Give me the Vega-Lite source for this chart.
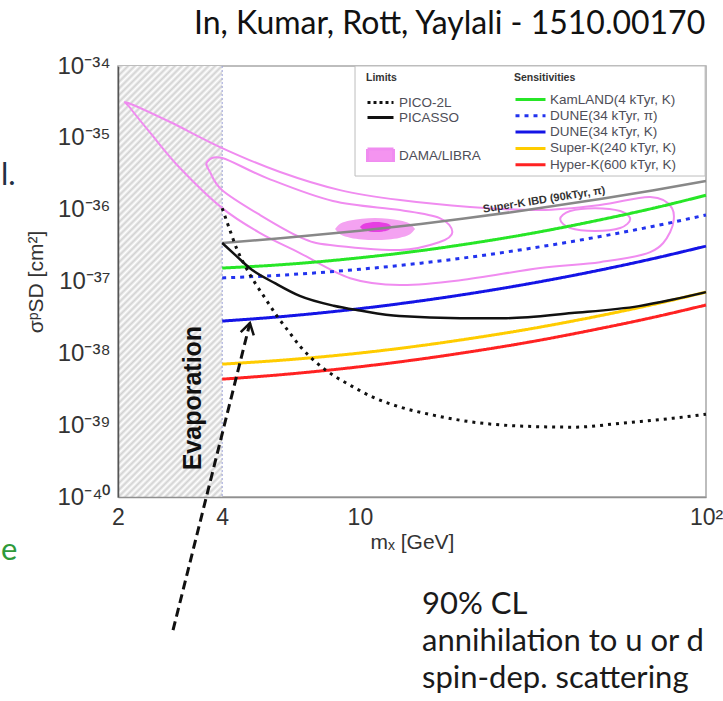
{
  "$schema": "https://vega.github.io/schema/vega-lite/v6.json",
  "width": 588,
  "height": 431,
  "autosize": {"type": "none"},
  "padding": {"left": 118, "top": 66, "right": 17, "bottom": 204},
  "background": "white",
  "config": {
    "view": {"stroke": "#a8a8a8", "strokeWidth": 1.5},
    "font": "Liberation Sans",
    "axis": {"grid": false}
  },
  "datasets": {
    "sensitivity": [
      {"series": "KamLAND(4 kTyr, K)", "m": 4, "sigma": 1.54e-37},
      {"series": "KamLAND(4 kTyr, K)", "m": 6, "sigma": 1.72e-37},
      {"series": "KamLAND(4 kTyr, K)", "m": 10, "sigma": 2.14e-37},
      {"series": "KamLAND(4 kTyr, K)", "m": 15, "sigma": 2.69e-37},
      {"series": "KamLAND(4 kTyr, K)", "m": 20, "sigma": 3.28e-37},
      {"series": "KamLAND(4 kTyr, K)", "m": 30, "sigma": 4.51e-37},
      {"series": "KamLAND(4 kTyr, K)", "m": 50, "sigma": 7.30e-37},
      {"series": "KamLAND(4 kTyr, K)", "m": 70, "sigma": 1.04e-36},
      {"series": "KamLAND(4 kTyr, K)", "m": 100, "sigma": 1.59e-36},
      {"series": "DUNE(34 kTyr, π)", "m": 4, "sigma": 1.12e-37},
      {"series": "DUNE(34 kTyr, π)", "m": 6, "sigma": 1.23e-37},
      {"series": "DUNE(34 kTyr, π)", "m": 10, "sigma": 1.48e-37},
      {"series": "DUNE(34 kTyr, π)", "m": 15, "sigma": 1.80e-37},
      {"series": "DUNE(34 kTyr, π)", "m": 20, "sigma": 2.13e-37},
      {"series": "DUNE(34 kTyr, π)", "m": 30, "sigma": 2.82e-37},
      {"series": "DUNE(34 kTyr, π)", "m": 50, "sigma": 4.27e-37},
      {"series": "DUNE(34 kTyr, π)", "m": 70, "sigma": 5.83e-37},
      {"series": "DUNE(34 kTyr, π)", "m": 100, "sigma": 8.44e-37},
      {"series": "DUNE(34 kTyr, K)", "m": 4, "sigma": 2.81e-38},
      {"series": "DUNE(34 kTyr, K)", "m": 6, "sigma": 3.26e-38},
      {"series": "DUNE(34 kTyr, K)", "m": 10, "sigma": 4.19e-38},
      {"series": "DUNE(34 kTyr, K)", "m": 15, "sigma": 5.38e-38},
      {"series": "DUNE(34 kTyr, K)", "m": 20, "sigma": 6.59e-38},
      {"series": "DUNE(34 kTyr, K)", "m": 30, "sigma": 9.11e-38},
      {"series": "DUNE(34 kTyr, K)", "m": 50, "sigma": 1.46e-37},
      {"series": "DUNE(34 kTyr, K)", "m": 70, "sigma": 2.07e-37},
      {"series": "DUNE(34 kTyr, K)", "m": 100, "sigma": 3.11e-37},
      {"series": "Super-K(240 kTyr, K)", "m": 4, "sigma": 7.07e-39},
      {"series": "Super-K(240 kTyr, K)", "m": 6, "sigma": 8.05e-39},
      {"series": "Super-K(240 kTyr, K)", "m": 10, "sigma": 1.01e-38},
      {"series": "Super-K(240 kTyr, K)", "m": 15, "sigma": 1.28e-38},
      {"series": "Super-K(240 kTyr, K)", "m": 20, "sigma": 1.56e-38},
      {"series": "Super-K(240 kTyr, K)", "m": 30, "sigma": 2.13e-38},
      {"series": "Super-K(240 kTyr, K)", "m": 50, "sigma": 3.38e-38},
      {"series": "Super-K(240 kTyr, K)", "m": 70, "sigma": 4.76e-38},
      {"series": "Super-K(240 kTyr, K)", "m": 100, "sigma": 7.12e-38},
      {"series": "Hyper-K(600 kTyr, K)", "m": 4, "sigma": 4.37e-39},
      {"series": "Hyper-K(600 kTyr, K)", "m": 6, "sigma": 5.07e-39},
      {"series": "Hyper-K(600 kTyr, K)", "m": 10, "sigma": 6.51e-39},
      {"series": "Hyper-K(600 kTyr, K)", "m": 15, "sigma": 8.33e-39},
      {"series": "Hyper-K(600 kTyr, K)", "m": 20, "sigma": 1.02e-38},
      {"series": "Hyper-K(600 kTyr, K)", "m": 30, "sigma": 1.40e-38},
      {"series": "Hyper-K(600 kTyr, K)", "m": 50, "sigma": 2.24e-38},
      {"series": "Hyper-K(600 kTyr, K)", "m": 70, "sigma": 3.15e-38},
      {"series": "Hyper-K(600 kTyr, K)", "m": 100, "sigma": 4.71e-38}
    ],
    "superk_ibd": [
      {"series": "Super-K IBD (90kTyr, π)", "m": 4, "sigma": 3.43e-37},
      {"series": "Super-K IBD (90kTyr, π)", "m": 6, "sigma": 4.02e-37},
      {"series": "Super-K IBD (90kTyr, π)", "m": 10, "sigma": 5.10e-37},
      {"series": "Super-K IBD (90kTyr, π)", "m": 15, "sigma": 6.34e-37},
      {"series": "Super-K IBD (90kTyr, π)", "m": 20, "sigma": 7.52e-37},
      {"series": "Super-K IBD (90kTyr, π)", "m": 30, "sigma": 9.78e-37},
      {"series": "Super-K IBD (90kTyr, π)", "m": 50, "sigma": 1.42e-36},
      {"series": "Super-K IBD (90kTyr, π)", "m": 70, "sigma": 1.85e-36},
      {"series": "Super-K IBD (90kTyr, π)", "m": 100, "sigma": 2.50e-36}
    ],
    "picasso": [
      {"limit": "PICASSO", "m": 4, "sigma": 3.43e-37},
      {"limit": "PICASSO", "m": 4.4, "sigma": 2.26e-37},
      {"limit": "PICASSO", "m": 4.8, "sigma": 1.54e-37},
      {"limit": "PICASSO", "m": 5.7, "sigma": 9.4e-38},
      {"limit": "PICASSO", "m": 6.7, "sigma": 6.3e-38},
      {"limit": "PICASSO", "m": 8.4, "sigma": 4.6e-38},
      {"limit": "PICASSO", "m": 10, "sigma": 3.95e-38},
      {"limit": "PICASSO", "m": 13, "sigma": 3.3e-38},
      {"limit": "PICASSO", "m": 19.5, "sigma": 3.09e-38},
      {"limit": "PICASSO", "m": 26.5, "sigma": 3.09e-38},
      {"limit": "PICASSO", "m": 41, "sigma": 3.63e-38},
      {"limit": "PICASSO", "m": 64, "sigma": 4.54e-38},
      {"limit": "PICASSO", "m": 79, "sigma": 5.51e-38},
      {"limit": "PICASSO", "m": 100, "sigma": 7.11e-38}
    ],
    "pico": [
      {"limit": "PICO-2L", "m": 4, "sigma": 1.05e-36},
      {"limit": "PICO-2L", "m": 4.21, "sigma": 5.20e-37},
      {"limit": "PICO-2L", "m": 4.41, "sigma": 2.83e-37},
      {"limit": "PICO-2L", "m": 4.66, "sigma": 1.64e-37},
      {"limit": "PICO-2L", "m": 4.98, "sigma": 9.50e-38},
      {"limit": "PICO-2L", "m": 5.32, "sigma": 5.87e-38},
      {"limit": "PICO-2L", "m": 5.76, "sigma": 3.30e-38},
      {"limit": "PICO-2L", "m": 6.28, "sigma": 1.91e-38},
      {"limit": "PICO-2L", "m": 6.71, "sigma": 1.26e-38},
      {"limit": "PICO-2L", "m": 7.52, "sigma": 7.31e-39},
      {"limit": "PICO-2L", "m": 8.36, "sigma": 4.97e-39},
      {"limit": "PICO-2L", "m": 9.37, "sigma": 3.60e-39},
      {"limit": "PICO-2L", "m": 10.9, "sigma": 2.45e-39},
      {"limit": "PICO-2L", "m": 13.1, "sigma": 1.78e-39},
      {"limit": "PICO-2L", "m": 16.3, "sigma": 1.38e-39},
      {"limit": "PICO-2L", "m": 19.5, "sigma": 1.17e-39},
      {"limit": "PICO-2L", "m": 29.6, "sigma": 9.68e-40},
      {"limit": "PICO-2L", "m": 41.3, "sigma": 9.38e-40},
      {"limit": "PICO-2L", "m": 57.6, "sigma": 1.07e-39},
      {"limit": "PICO-2L", "m": 80.4, "sigma": 1.25e-39},
      {"limit": "PICO-2L", "m": 100, "sigma": 1.42e-39}
    ],
    "dama_contours": [
      {"limit": "DAMA/LIBRA", "contour": "outer", "k": 1, "m": 2.14, "sigma": 3.06e-35},
      {"limit": "DAMA/LIBRA", "contour": "outer", "k": 2, "m": 2.83, "sigma": 1.66e-35},
      {"limit": "DAMA/LIBRA", "contour": "outer", "k": 3, "m": 4.0, "sigma": 7.21e-36},
      {"limit": "DAMA/LIBRA", "contour": "outer", "k": 4, "m": 5.88, "sigma": 3.34e-36},
      {"limit": "DAMA/LIBRA", "contour": "outer", "k": 5, "m": 8.76, "sigma": 1.87e-36},
      {"limit": "DAMA/LIBRA", "contour": "outer", "k": 6, "m": 13.06, "sigma": 1.36e-36},
      {"limit": "DAMA/LIBRA", "contour": "outer", "k": 7, "m": 20.8, "sigma": 1.09e-36},
      {"limit": "DAMA/LIBRA", "contour": "outer", "k": 8, "m": 33.2, "sigma": 9.87e-37},
      {"limit": "DAMA/LIBRA", "contour": "outer", "k": 9, "m": 49.4, "sigma": 1.16e-36},
      {"limit": "DAMA/LIBRA", "contour": "outer", "k": 10, "m": 69.0, "sigma": 1.50e-36},
      {"limit": "DAMA/LIBRA", "contour": "outer", "k": 11, "m": 79.8, "sigma": 1.05e-36},
      {"limit": "DAMA/LIBRA", "contour": "outer", "k": 12, "m": 78.8, "sigma": 4.88e-37},
      {"limit": "DAMA/LIBRA", "contour": "outer", "k": 13, "m": 69.0, "sigma": 2.56e-37},
      {"limit": "DAMA/LIBRA", "contour": "outer", "k": 14, "m": 49.4, "sigma": 1.86e-37},
      {"limit": "DAMA/LIBRA", "contour": "outer", "k": 15, "m": 33.2, "sigma": 1.54e-37},
      {"limit": "DAMA/LIBRA", "contour": "outer", "k": 16, "m": 19.5, "sigma": 1.04e-37},
      {"limit": "DAMA/LIBRA", "contour": "outer", "k": 17, "m": 13.06, "sigma": 8.91e-38},
      {"limit": "DAMA/LIBRA", "contour": "outer", "k": 18, "m": 9.37, "sigma": 1.11e-37},
      {"limit": "DAMA/LIBRA", "contour": "outer", "k": 19, "m": 6.71, "sigma": 2.49e-37},
      {"limit": "DAMA/LIBRA", "contour": "outer", "k": 20, "m": 5.15, "sigma": 4.72e-37},
      {"limit": "DAMA/LIBRA", "contour": "outer", "k": 21, "m": 4.0, "sigma": 1.05e-36},
      {"limit": "DAMA/LIBRA", "contour": "outer", "k": 22, "m": 3.02, "sigma": 3.80e-36},
      {"limit": "DAMA/LIBRA", "contour": "outer", "k": 23, "m": 2.48, "sigma": 1.17e-35},
      {"limit": "DAMA/LIBRA", "contour": "outer", "k": 24, "m": 2.17, "sigma": 2.60e-35},
      {"limit": "DAMA/LIBRA", "contour": "middle", "k": 1, "m": 3.615, "sigma": 4.60e-36},
      {"limit": "DAMA/LIBRA", "contour": "middle", "k": 2, "m": 4.0, "sigma": 5.24e-36},
      {"limit": "DAMA/LIBRA", "contour": "middle", "k": 3, "m": 5.39, "sigma": 2.75e-36},
      {"limit": "DAMA/LIBRA", "contour": "middle", "k": 4, "m": 8.36, "sigma": 1.32e-36},
      {"limit": "DAMA/LIBRA", "contour": "middle", "k": 5, "m": 13.06, "sigma": 9.87e-37},
      {"limit": "DAMA/LIBRA", "contour": "middle", "k": 6, "m": 17.0, "sigma": 7.64e-37},
      {"limit": "DAMA/LIBRA", "contour": "middle", "k": 7, "m": 18.5, "sigma": 4.88e-37},
      {"limit": "DAMA/LIBRA", "contour": "middle", "k": 8, "m": 17.0, "sigma": 3.54e-37},
      {"limit": "DAMA/LIBRA", "contour": "middle", "k": 9, "m": 13.06, "sigma": 2.74e-37},
      {"limit": "DAMA/LIBRA", "contour": "middle", "k": 10, "m": 8.2, "sigma": 3.21e-37},
      {"limit": "DAMA/LIBRA", "contour": "middle", "k": 11, "m": 6.71, "sigma": 4.15e-37},
      {"limit": "DAMA/LIBRA", "contour": "middle", "k": 12, "m": 5.15, "sigma": 8.41e-37},
      {"limit": "DAMA/LIBRA", "contour": "middle", "k": 13, "m": 4.0, "sigma": 1.87e-36},
      {"limit": "DAMA/LIBRA", "contour": "middle", "k": 14, "m": 3.69, "sigma": 3.34e-36},
      {"limit": "DAMA/LIBRA", "contour": "high-mass", "k": 1, "m": 37.9, "sigma": 7.39e-37},
      {"limit": "DAMA/LIBRA", "contour": "high-mass", "k": 2, "m": 40.5, "sigma": 9.57e-37},
      {"limit": "DAMA/LIBRA", "contour": "high-mass", "k": 3, "m": 47.8, "sigma": 1.05e-36},
      {"limit": "DAMA/LIBRA", "contour": "high-mass", "k": 4, "m": 56.5, "sigma": 9.57e-37},
      {"limit": "DAMA/LIBRA", "contour": "high-mass", "k": 5, "m": 60.4, "sigma": 7.39e-37},
      {"limit": "DAMA/LIBRA", "contour": "high-mass", "k": 6, "m": 56.5, "sigma": 5.55e-37},
      {"limit": "DAMA/LIBRA", "contour": "high-mass", "k": 7, "m": 47.8, "sigma": 5.04e-37},
      {"limit": "DAMA/LIBRA", "contour": "high-mass", "k": 8, "m": 40.5, "sigma": 5.55e-37}
    ],
    "dama_region": [
      {"m": 8.475, "hi": 5.37e-37, "lo": 5.37e-37},
      {"m": 8.762, "hi": 6.37e-37, "lo": 4.53e-37},
      {"m": 9.365, "hi": 7.08e-37, "lo": 4.07e-37},
      {"m": 10.14, "hi": 7.50e-37, "lo": 3.85e-37},
      {"m": 11.06, "hi": 7.64e-37, "lo": 3.77e-37},
      {"m": 12.06, "hi": 7.50e-37, "lo": 3.85e-37},
      {"m": 13.06, "hi": 7.08e-37, "lo": 4.07e-37},
      {"m": 13.96, "hi": 6.37e-37, "lo": 4.53e-37},
      {"m": 14.43, "hi": 5.37e-37, "lo": 5.37e-37}
    ],
    "dama_core": [
      {"m": 10.0, "hi": 5.73e-37, "lo": 5.73e-37},
      {"m": 10.28, "hi": 6.37e-37, "lo": 5.15e-37},
      {"m": 10.7, "hi": 6.64e-37, "lo": 4.94e-37},
      {"m": 11.13, "hi": 6.71e-37, "lo": 4.88e-37},
      {"m": 11.59, "hi": 6.64e-37, "lo": 4.94e-37},
      {"m": 12.06, "hi": 6.37e-37, "lo": 5.15e-37},
      {"m": 12.38, "hi": 5.73e-37, "lo": 5.73e-37}
    ]
  },
  "layer": [
    {
      "data": {"values": [{"region": "evaporation", "m": 2, "m2": 4}]},
      "mark": {
        "type": "rect",
        "fill": {
          "gradient": "linear", "x1": 0, "y1": 0, "x2": 0.283, "y2": 1.173,
          "stops": [
            {"offset": 0, "color": "#ffffff"}, {"offset": 0.00625, "color": "#d2d2d2"}, {"offset": 0.0125, "color": "#ffffff"}, {"offset": 0.01875, "color": "#d2d2d2"},
            {"offset": 0.025, "color": "#ffffff"}, {"offset": 0.03125, "color": "#d2d2d2"}, {"offset": 0.0375, "color": "#ffffff"}, {"offset": 0.04375, "color": "#d2d2d2"},
            {"offset": 0.05, "color": "#ffffff"}, {"offset": 0.05625, "color": "#d2d2d2"}, {"offset": 0.0625, "color": "#ffffff"}, {"offset": 0.06875, "color": "#d2d2d2"},
            {"offset": 0.075, "color": "#ffffff"}, {"offset": 0.08125, "color": "#d2d2d2"}, {"offset": 0.0875, "color": "#ffffff"}, {"offset": 0.09375, "color": "#d2d2d2"},
            {"offset": 0.1, "color": "#ffffff"}, {"offset": 0.10625, "color": "#d2d2d2"}, {"offset": 0.1125, "color": "#ffffff"}, {"offset": 0.11875, "color": "#d2d2d2"},
            {"offset": 0.125, "color": "#ffffff"}, {"offset": 0.13125, "color": "#d2d2d2"}, {"offset": 0.1375, "color": "#ffffff"}, {"offset": 0.14375, "color": "#d2d2d2"},
            {"offset": 0.15, "color": "#ffffff"}, {"offset": 0.15625, "color": "#d2d2d2"}, {"offset": 0.1625, "color": "#ffffff"}, {"offset": 0.16875, "color": "#d2d2d2"},
            {"offset": 0.175, "color": "#ffffff"}, {"offset": 0.18125, "color": "#d2d2d2"}, {"offset": 0.1875, "color": "#ffffff"}, {"offset": 0.19375, "color": "#d2d2d2"},
            {"offset": 0.2, "color": "#ffffff"}, {"offset": 0.20625, "color": "#d2d2d2"}, {"offset": 0.2125, "color": "#ffffff"}, {"offset": 0.21875, "color": "#d2d2d2"},
            {"offset": 0.225, "color": "#ffffff"}, {"offset": 0.23125, "color": "#d2d2d2"}, {"offset": 0.2375, "color": "#ffffff"}, {"offset": 0.24375, "color": "#d2d2d2"},
            {"offset": 0.25, "color": "#ffffff"}, {"offset": 0.25625, "color": "#d2d2d2"}, {"offset": 0.2625, "color": "#ffffff"}, {"offset": 0.26875, "color": "#d2d2d2"},
            {"offset": 0.275, "color": "#ffffff"}, {"offset": 0.28125, "color": "#d2d2d2"}, {"offset": 0.2875, "color": "#ffffff"}, {"offset": 0.29375, "color": "#d2d2d2"},
            {"offset": 0.3, "color": "#ffffff"}, {"offset": 0.30625, "color": "#d2d2d2"}, {"offset": 0.3125, "color": "#ffffff"}, {"offset": 0.31875, "color": "#d2d2d2"},
            {"offset": 0.325, "color": "#ffffff"}, {"offset": 0.33125, "color": "#d2d2d2"}, {"offset": 0.3375, "color": "#ffffff"}, {"offset": 0.34375, "color": "#d2d2d2"},
            {"offset": 0.35, "color": "#ffffff"}, {"offset": 0.35625, "color": "#d2d2d2"}, {"offset": 0.3625, "color": "#ffffff"}, {"offset": 0.36875, "color": "#d2d2d2"},
            {"offset": 0.375, "color": "#ffffff"}, {"offset": 0.38125, "color": "#d2d2d2"}, {"offset": 0.3875, "color": "#ffffff"}, {"offset": 0.39375, "color": "#d2d2d2"},
            {"offset": 0.4, "color": "#ffffff"}, {"offset": 0.40625, "color": "#d2d2d2"}, {"offset": 0.4125, "color": "#ffffff"}, {"offset": 0.41875, "color": "#d2d2d2"},
            {"offset": 0.425, "color": "#ffffff"}, {"offset": 0.43125, "color": "#d2d2d2"}, {"offset": 0.4375, "color": "#ffffff"}, {"offset": 0.44375, "color": "#d2d2d2"},
            {"offset": 0.45, "color": "#ffffff"}, {"offset": 0.45625, "color": "#d2d2d2"}, {"offset": 0.4625, "color": "#ffffff"}, {"offset": 0.46875, "color": "#d2d2d2"},
            {"offset": 0.475, "color": "#ffffff"}, {"offset": 0.48125, "color": "#d2d2d2"}, {"offset": 0.4875, "color": "#ffffff"}, {"offset": 0.49375, "color": "#d2d2d2"},
            {"offset": 0.5, "color": "#ffffff"}, {"offset": 0.50625, "color": "#d2d2d2"}, {"offset": 0.5125, "color": "#ffffff"}, {"offset": 0.51875, "color": "#d2d2d2"},
            {"offset": 0.525, "color": "#ffffff"}, {"offset": 0.53125, "color": "#d2d2d2"}, {"offset": 0.5375, "color": "#ffffff"}, {"offset": 0.54375, "color": "#d2d2d2"},
            {"offset": 0.55, "color": "#ffffff"}, {"offset": 0.55625, "color": "#d2d2d2"}, {"offset": 0.5625, "color": "#ffffff"}, {"offset": 0.56875, "color": "#d2d2d2"},
            {"offset": 0.575, "color": "#ffffff"}, {"offset": 0.58125, "color": "#d2d2d2"}, {"offset": 0.5875, "color": "#ffffff"}, {"offset": 0.59375, "color": "#d2d2d2"},
            {"offset": 0.6, "color": "#ffffff"}, {"offset": 0.60625, "color": "#d2d2d2"}, {"offset": 0.6125, "color": "#ffffff"}, {"offset": 0.61875, "color": "#d2d2d2"},
            {"offset": 0.625, "color": "#ffffff"}, {"offset": 0.63125, "color": "#d2d2d2"}, {"offset": 0.6375, "color": "#ffffff"}, {"offset": 0.64375, "color": "#d2d2d2"},
            {"offset": 0.65, "color": "#ffffff"}, {"offset": 0.65625, "color": "#d2d2d2"}, {"offset": 0.6625, "color": "#ffffff"}, {"offset": 0.66875, "color": "#d2d2d2"},
            {"offset": 0.675, "color": "#ffffff"}, {"offset": 0.68125, "color": "#d2d2d2"}, {"offset": 0.6875, "color": "#ffffff"}, {"offset": 0.69375, "color": "#d2d2d2"},
            {"offset": 0.7, "color": "#ffffff"}, {"offset": 0.70625, "color": "#d2d2d2"}, {"offset": 0.7125, "color": "#ffffff"}, {"offset": 0.71875, "color": "#d2d2d2"},
            {"offset": 0.725, "color": "#ffffff"}, {"offset": 0.73125, "color": "#d2d2d2"}, {"offset": 0.7375, "color": "#ffffff"}, {"offset": 0.74375, "color": "#d2d2d2"},
            {"offset": 0.75, "color": "#ffffff"}, {"offset": 0.75625, "color": "#d2d2d2"}, {"offset": 0.7625, "color": "#ffffff"}, {"offset": 0.76875, "color": "#d2d2d2"},
            {"offset": 0.775, "color": "#ffffff"}, {"offset": 0.78125, "color": "#d2d2d2"}, {"offset": 0.7875, "color": "#ffffff"}, {"offset": 0.79375, "color": "#d2d2d2"},
            {"offset": 0.8, "color": "#ffffff"}, {"offset": 0.80625, "color": "#d2d2d2"}, {"offset": 0.8125, "color": "#ffffff"}, {"offset": 0.81875, "color": "#d2d2d2"},
            {"offset": 0.825, "color": "#ffffff"}, {"offset": 0.83125, "color": "#d2d2d2"}, {"offset": 0.8375, "color": "#ffffff"}, {"offset": 0.84375, "color": "#d2d2d2"},
            {"offset": 0.85, "color": "#ffffff"}, {"offset": 0.85625, "color": "#d2d2d2"}, {"offset": 0.8625, "color": "#ffffff"}, {"offset": 0.86875, "color": "#d2d2d2"},
            {"offset": 0.875, "color": "#ffffff"}, {"offset": 0.88125, "color": "#d2d2d2"}, {"offset": 0.8875, "color": "#ffffff"}, {"offset": 0.89375, "color": "#d2d2d2"},
            {"offset": 0.9, "color": "#ffffff"}, {"offset": 0.90625, "color": "#d2d2d2"}, {"offset": 0.9125, "color": "#ffffff"}, {"offset": 0.91875, "color": "#d2d2d2"},
            {"offset": 0.925, "color": "#ffffff"}, {"offset": 0.93125, "color": "#d2d2d2"}, {"offset": 0.9375, "color": "#ffffff"}, {"offset": 0.94375, "color": "#d2d2d2"},
            {"offset": 0.95, "color": "#ffffff"}, {"offset": 0.95625, "color": "#d2d2d2"}, {"offset": 0.9625, "color": "#ffffff"}, {"offset": 0.96875, "color": "#d2d2d2"},
            {"offset": 0.975, "color": "#ffffff"}, {"offset": 0.98125, "color": "#d2d2d2"}, {"offset": 0.9875, "color": "#ffffff"}, {"offset": 0.99375, "color": "#d2d2d2"},
            {"offset": 1, "color": "#ffffff"}
          ]
        }
      },
      "encoding": {
        "x": {"field": "m", "type": "quantitative", "scale": {"type": "log", "domain": [2, 100], "nice": false}},
        "x2": {"field": "m2"}
      }
    },
    {
      "data": {"values": [{"region": "evaporation", "m": 2, "m2": 4}]},
      "mark": {"type": "rule", "color": "#9aa0d8", "strokeWidth": 1, "strokeDash": [2, 2]},
      "encoding": {
        "x": {"field": "m2", "type": "quantitative", "scale": {"type": "log", "domain": [2, 100], "nice": false}}
      }
    },
    {
      "data": {"name": "dama_region"},
      "mark": {"type": "area", "color": "#f4a2f1", "interpolate": "monotone"},
      "encoding": {
        "x": {"field": "m", "type": "quantitative", "scale": {"type": "log", "domain": [2, 100], "nice": false}},
        "y": {"field": "hi", "type": "quantitative", "scale": {"type": "log", "domain": [1e-40, 1e-34], "nice": false}},
        "y2": {"field": "lo"}
      }
    },
    {
      "data": {"name": "dama_core"},
      "mark": {"type": "area", "color": "#e63ee2", "interpolate": "monotone"},
      "encoding": {
        "x": {"field": "m", "type": "quantitative", "scale": {"type": "log", "domain": [2, 100], "nice": false}},
        "y": {"field": "hi", "type": "quantitative", "scale": {"type": "log", "domain": [1e-40, 1e-34], "nice": false}},
        "y2": {"field": "lo"}
      }
    },
    {
      "data": {"name": "dama_contours"},
      "mark": {"type": "line", "strokeWidth": 2, "interpolate": "cardinal-closed"},
      "encoding": {
        "x": {"field": "m", "type": "quantitative", "scale": {"type": "log", "domain": [2, 100], "nice": false}},
        "y": {"field": "sigma", "type": "quantitative", "scale": {"type": "log", "domain": [1e-40, 1e-34], "nice": false}},
        "detail": {"field": "contour", "type": "nominal"},
        "order": {"field": "k", "type": "quantitative"},
        "stroke": {
          "field": "limit", "type": "nominal",
          "scale": {"domain": ["PICO-2L", "PICASSO", " ", "DAMA/LIBRA"], "range": ["#111111", "#111111", "transparent", "#f08cf0"]},
          "legend": {
            "title": "Limits", "orient": "none", "legendX": 248, "legendY": 7, "padding": 0,
            "titleFont": "Liberation Sans", "titleFontSize": 10.5, "titleFontWeight": "bold", "titleColor": "#333333", "titlePadding": 12,
            "labelFont": "Liberation Sans", "labelFontSize": 13.5, "labelColor": "#4e4e58", "labelOffset": 4,
            "symbolType": "stroke", "symbolSize": 676, "symbolStrokeWidth": 3,
            "clipHeight": 14, "rowPadding": 1,
            "encode": {
              "symbols": {"update": {
                "shape": {"signal": "datum.value === 'DAMA/LIBRA' ? 'M-1,-0.5H1V0.5H-1Z' : 'stroke'"},
                "fill": {"signal": "datum.value === 'DAMA/LIBRA' ? '#f494f0' : 'transparent'"},
                "strokeDash": {"signal": "datum.value === 'PICO-2L' ? [3, 3] : [1, 0]"},
                "y": {"signal": "datum.value === 'DAMA/LIBRA' ? 15 : 7"}
              }},
              "labels": {"update": {"dy": {"signal": "datum.value === 'DAMA/LIBRA' ? 8 : 0"}}}
            }
          }
        }
      }
    },
    {
      "data": {"name": "sensitivity"},
      "mark": {"type": "line", "strokeWidth": 3, "interpolate": "monotone"},
      "encoding": {
        "x": {
          "field": "m", "type": "quantitative",
          "scale": {"type": "log", "domain": [2, 100], "nice": false},
          "axis": {
            "title": "mₓ [GeV]",
            "values": [2, 3, 4, 5, 6, 7, 8, 9, 10, 20, 30, 40, 50, 60, 70, 80, 90, 100],
            "labelExpr": "datum.value == 2 ? '2' : datum.value == 4 ? '4' : datum.value == 10 ? '10' : datum.value == 100 ? '10²' : ''",
            "labelFont": "Liberation Sans", "labelFontSize": 23, "labelColor": "#333333", "labelPadding": 9,
            "labelFlush": false, "labelOverlap": false,
            "tickSize": 0, "tickColor": "#333333", "tickWidth": 1.3,
            "domainColor": "#909090", "domainWidth": 1.5,
            "titleFont": "Liberation Sans", "titleFontSize": 21, "titleFontWeight": "normal", "titleColor": "#333333", "titlePadding": 2,
            "grid": false, "zindex": 1,
            "encode": {"ticks": {"update": {"y2": {"signal": "datum.value == 10 ? -12 : -6"}}}}
          }
        },
        "y": {
          "field": "sigma", "type": "quantitative",
          "scale": {"type": "log", "domain": [1e-40, 1e-34], "nice": false},
          "axis": {
            "title": "σᵖSD [cm²]",
            "values": [1e-40, 2e-40, 3e-40, 4e-40, 5e-40, 6e-40, 7e-40, 8e-40, 9e-40,
                       1e-39, 2e-39, 3e-39, 4e-39, 5e-39, 6e-39, 7e-39, 8e-39, 9e-39,
                       1e-38, 2e-38, 3e-38, 4e-38, 5e-38, 6e-38, 7e-38, 8e-38, 9e-38,
                       1e-37, 2e-37, 3e-37, 4e-37, 5e-37, 6e-37, 7e-37, 8e-37, 9e-37,
                       1e-36, 2e-36, 3e-36, 4e-36, 5e-36, 6e-36, 7e-36, 8e-36, 9e-36,
                       1e-35, 2e-35, 3e-35, 4e-35, 5e-35, 6e-35, 7e-35, 8e-35, 9e-35, 1e-34],
            "labelExpr": "abs(log(datum.value)/LN10 - round(log(datum.value)/LN10)) < 0.01 ? ['10⁻⁴⁰','10⁻³⁹','10⁻³⁸','10⁻³⁷','10⁻³⁶','10⁻³⁵','10⁻³⁴'][round(log(datum.value)/LN10) + 40] : ''",
            "labelFont": "Liberation Sans", "labelFontSize": 24, "labelColor": "#333333", "labelPadding": 8,
            "labelFlush": false, "labelOverlap": false, "labelBaseline": "middle",
            "tickSize": 0, "tickColor": "#333333", "tickWidth": 1.3,
            "domainColor": "#555555", "domainWidth": 1.5,
            "titleFont": "Liberation Sans", "titleFontSize": 21, "titleFontWeight": "normal", "titleColor": "#333333", "titlePadding": 10,
            "grid": false, "zindex": 1,
            "encode": {"ticks": {"update": {"x2": {"signal": "abs(log(datum.value)/LN10 - round(log(datum.value)/LN10)) < 0.01 ? 11 : 5"}}}}
          }
        },
        "color": {
          "field": "series", "type": "nominal",
          "scale": {
            "domain": ["KamLAND(4 kTyr, K)", "DUNE(34 kTyr, π)", "DUNE(34 kTyr, K)", "Super-K(240 kTyr, K)", "Hyper-K(600 kTyr, K)"],
            "range": ["#27e627", "#2233ee", "#1414e6", "#ffcc00", "#ff2222"]
          },
          "legend": {
            "title": "Sensitivities", "orient": "none", "legendX": 396, "legendY": 7, "padding": 0,
            "titleFont": "Liberation Sans", "titleFontSize": 10.5, "titleFontWeight": "bold", "titleColor": "#333333", "titlePadding": 9,
            "labelFont": "Liberation Sans", "labelFontSize": 13.5, "labelColor": "#4e4e58", "labelOffset": 3,
            "symbolType": "stroke", "symbolSize": 900, "symbolStrokeWidth": 3,
            "clipHeight": 14, "rowPadding": 2.3,
            "encode": {"symbols": {"update": {"strokeDash": {"signal": "datum.value === 'DUNE(34 kTyr, π)' ? [4, 4] : [1, 0]"}}}}
          }
        },
        "strokeDash": {
          "field": "series", "type": "nominal",
          "scale": {
            "domain": ["KamLAND(4 kTyr, K)", "DUNE(34 kTyr, π)", "DUNE(34 kTyr, K)", "Super-K(240 kTyr, K)", "Hyper-K(600 kTyr, K)"],
            "range": [[1, 0], [4, 5], [1, 0], [1, 0], [1, 0]]
          },
          "legend": null
        }
      }
    },
    {
      "data": {"name": "superk_ibd"},
      "mark": {"type": "line", "strokeWidth": 2.5, "color": "#888888", "interpolate": "monotone"},
      "encoding": {
        "x": {"field": "m", "type": "quantitative", "scale": {"type": "log", "domain": [2, 100], "nice": false}},
        "y": {"field": "sigma", "type": "quantitative", "scale": {"type": "log", "domain": [1e-40, 1e-34], "nice": false}}
      }
    },
    {
      "data": {"name": "picasso"},
      "mark": {"type": "line", "strokeWidth": 2.5, "interpolate": "monotone"},
      "encoding": {
        "x": {"field": "m", "type": "quantitative", "scale": {"type": "log", "domain": [2, 100], "nice": false}},
        "y": {"field": "sigma", "type": "quantitative", "scale": {"type": "log", "domain": [1e-40, 1e-34], "nice": false}},
        "stroke": {"field": "limit", "type": "nominal"}
      }
    },
    {
      "data": {"name": "pico"},
      "mark": {"type": "line", "strokeWidth": 3, "strokeDash": [3, 5], "interpolate": "monotone"},
      "encoding": {
        "x": {"field": "m", "type": "quantitative", "scale": {"type": "log", "domain": [2, 100], "nice": false}},
        "y": {"field": "sigma", "type": "quantitative", "scale": {"type": "log", "domain": [1e-40, 1e-34], "nice": false}},
        "stroke": {"field": "limit", "type": "nominal"}
      }
    },
    {
      "data": {"values": [{"box": "legend"}]},
      "mark": {"type": "rect", "fill": "white", "stroke": "#bdbdbd", "strokeWidth": 1},
      "encoding": {
        "x": {"datum": 9.68, "type": "quantitative", "scale": {"type": "log", "domain": [2, 100], "nice": false}},
        "x2": {"datum": 99.4},
        "y": {"datum": 1e-34, "type": "quantitative", "scale": {"type": "log", "domain": [1e-40, 1e-34], "nice": false}},
        "y2": {"datum": 2.94e-36}
      }
    },
    {
      "data": {"values": [{"note": "Super-K IBD (90kTyr, π)", "m": 34.06, "sigma": 1.36e-36}]},
      "mark": {"type": "text", "font": "Liberation Sans", "fontSize": 11, "fontWeight": "bold", "color": "#333333", "angle": 351, "align": "center", "baseline": "middle"},
      "encoding": {
        "x": {"field": "m", "type": "quantitative", "scale": {"type": "log", "domain": [2, 100], "nice": false}},
        "y": {"field": "sigma", "type": "quantitative", "scale": {"type": "log", "domain": [1e-40, 1e-34], "nice": false}},
        "text": {"field": "note"}
      }
    },
    {
      "data": {"values": [{"note": "Evaporation", "m": 3.295, "sigma": 2.38e-39}]},
      "mark": {"type": "text", "font": "Liberation Sans", "fontSize": 25, "fontWeight": "bold", "color": "#111111", "angle": 270, "align": "center", "baseline": "middle"},
      "encoding": {
        "x": {"field": "m", "type": "quantitative", "scale": {"type": "log", "domain": [2, 100], "nice": false}},
        "y": {"field": "sigma", "type": "quantitative", "scale": {"type": "log", "domain": [1e-40, 1e-34], "nice": false}},
        "text": {"field": "note"}
      }
    },
    {
      "data": {"values": [{"end": "tail", "k": 0, "m": 2.884, "sigma": 1.40e-42}, {"end": "tip", "k": 1, "m": 4.81, "sigma": 2.64e-38}]},
      "mark": {"type": "line", "color": "#111111", "strokeWidth": 3, "strokeDash": [9, 5], "clip": false},
      "encoding": {
        "x": {"field": "m", "type": "quantitative", "scale": {"type": "log", "domain": [2, 100], "nice": false}},
        "y": {"field": "sigma", "type": "quantitative", "scale": {"type": "log", "domain": [1e-40, 1e-34], "nice": false}},
        "order": {"field": "k", "type": "quantitative"}
      }
    },
    {
      "data": {"values": [{"end": "tip", "m": 4.81, "sigma": 2.64e-38}]},
      "mark": {"type": "point", "shape": "M-0.55,0.9L0,0L0.55,0.9", "size": 600, "filled": false, "stroke": "#111111", "strokeWidth": 2.5, "angle": 14, "opacity": 1},
      "encoding": {
        "x": {"field": "m", "type": "quantitative", "scale": {"type": "log", "domain": [2, 100], "nice": false}},
        "y": {"field": "sigma", "type": "quantitative", "scale": {"type": "log", "domain": [1e-40, 1e-34], "nice": false}}
      }
    },
    {
      "data": {"values": [{"note": "In, Kumar, Rott, Yaylali - 1510.00170", "m": 3.317, "sigma": 2.79e-34}]},
      "mark": {"type": "text", "font": "Lato", "fontSize": 32, "color": "#111111", "align": "left", "baseline": "alphabetic"},
      "encoding": {
        "x": {"field": "m", "type": "quantitative", "scale": {"type": "log", "domain": [2, 100], "nice": false}},
        "y": {"field": "sigma", "type": "quantitative", "scale": {"type": "log", "domain": [1e-40, 1e-34], "nice": false}},
        "text": {"field": "note"}
      }
    },
    {
      "data": {"values": [{"note": "90% CL\nannihilation to u or d\nspin-dep. scattering", "m": 15.12, "sigma": 2.33e-42}]},
      "mark": {"type": "text", "font": "Lato", "fontSize": 31, "color": "#1a1a1a", "align": "left", "baseline": "alphabetic", "lineBreak": "\n", "lineHeight": 37},
      "encoding": {
        "x": {"field": "m", "type": "quantitative", "scale": {"type": "log", "domain": [2, 100], "nice": false}},
        "y": {"field": "sigma", "type": "quantitative", "scale": {"type": "log", "domain": [1e-40, 1e-34], "nice": false}},
        "text": {"field": "note"}
      }
    },
    {
      "data": {"values": [{"note": "l.", "m": 0.918, "sigma": 2.2e-36}]},
      "mark": {"type": "text", "font": "Lato", "fontSize": 31, "color": "#223044", "align": "left", "baseline": "alphabetic"},
      "encoding": {
        "x": {"field": "m", "type": "quantitative", "scale": {"type": "log", "domain": [2, 100], "nice": false}},
        "y": {"field": "sigma", "type": "quantitative", "scale": {"type": "log", "domain": [1e-40, 1e-34], "nice": false}},
        "text": {"field": "note"}
      }
    },
    {
      "data": {"values": [{"note": "e", "m": 0.918, "sigma": 1.32e-41}]},
      "mark": {"type": "text", "font": "Lato", "fontSize": 31, "color": "#2e9a3a", "align": "left", "baseline": "alphabetic"},
      "encoding": {
        "x": {"field": "m", "type": "quantitative", "scale": {"type": "log", "domain": [2, 100], "nice": false}},
        "y": {"field": "sigma", "type": "quantitative", "scale": {"type": "log", "domain": [1e-40, 1e-34], "nice": false}},
        "text": {"field": "note"}
      }
    }
  ]
}
